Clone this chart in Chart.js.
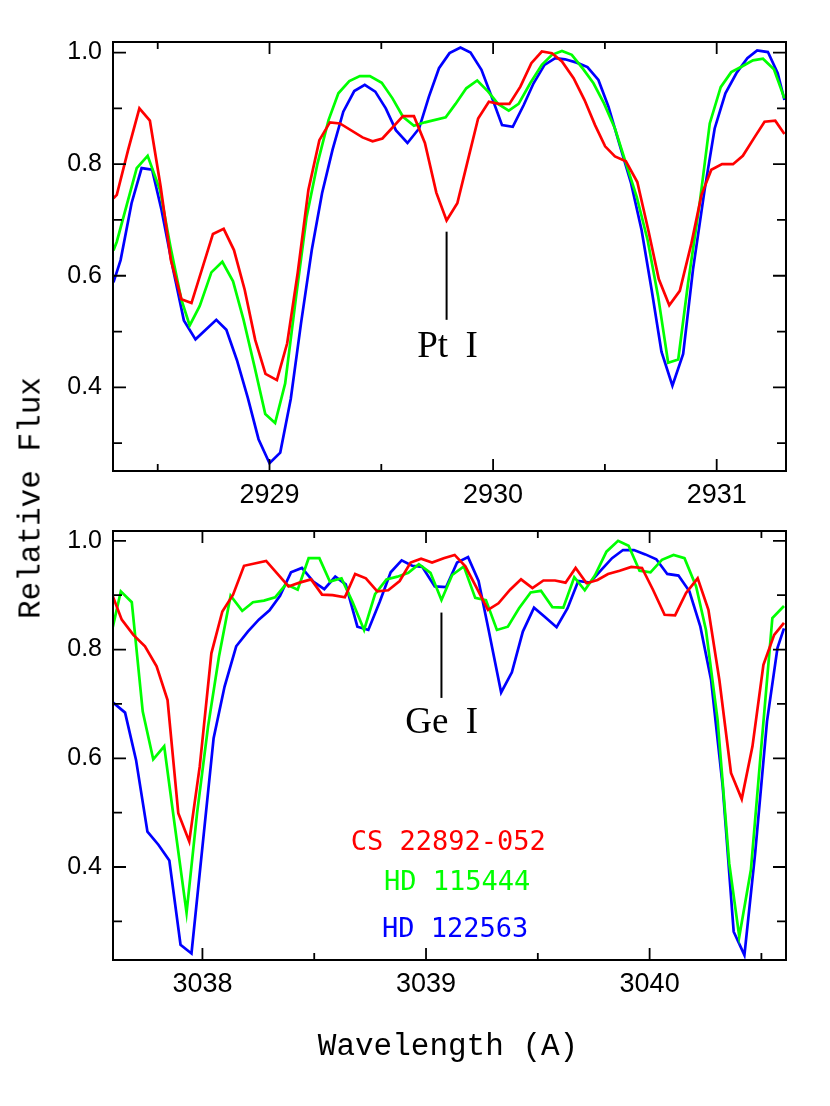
<!DOCTYPE html>
<html><head><meta charset="utf-8">
<script src="https://cdn.jsdelivr.net/npm/chart.js@4.4.1/dist/chart.umd.min.js"></script>
<style>
html,body{margin:0;padding:0;background:#fff;width:830px;height:1106px;overflow:hidden;position:relative;}
canvas{position:absolute;left:0;}
#c1{top:0;}
#c2{top:490px;}
.lab{position:absolute;font-family:"Liberation Mono",monospace;font-size:31px;color:#000;line-height:1;white-space:nowrap;transform:translate(-50%,-50%);}
#ylab{left:31px;top:498px;transform:translate(-50%,-50%) rotate(-90deg);}
#xlab{left:448px;top:1046px;}
</style></head><body>
<canvas id="c1" width="830" height="520" style="width:830px;height:520px"></canvas>
<canvas id="c2" width="830" height="616" style="width:830px;height:616px"></canvas>
<div id="ylab" class="lab">Relative Flux</div>
<div id="xlab" class="lab">Wavelength (A)</div>
<script>
// ---------- data: top panel (Pt I region) ----------
const topRedX = [2928.302,2928.317,2928.368,2928.418,2928.465,2928.513,2928.559,2928.606,2928.651,2928.747,2928.795,2928.841,2928.889,2928.936,2928.982,2929.033,2929.079,2929.126,2929.174,2929.223,2929.270,2929.315,2929.416,2929.461,2929.505,2929.597,2929.646,2929.695,2929.746,2929.792,2929.840,2929.884,2929.933,2929.981,2930.025,2930.073,2930.122,2930.171,2930.218,2930.263,2930.308,2930.360,2930.409,2930.456,2930.501,2930.545,2930.594,2930.645,2930.694,2930.741,2930.788,2930.835,2930.887,2930.932,2930.976,2931.024,2931.073,2931.117,2931.169,2931.214,2931.262,2931.303];
const topRedY = [0.739,0.745,0.826,0.900,0.878,0.760,0.628,0.558,0.551,0.675,0.684,0.646,0.575,0.485,0.424,0.413,0.479,0.605,0.754,0.843,0.875,0.873,0.848,0.841,0.846,0.886,0.886,0.838,0.749,0.699,0.730,0.802,0.882,0.912,0.908,0.908,0.939,0.981,1.002,0.999,0.984,0.954,0.915,0.870,0.832,0.814,0.805,0.768,0.682,0.594,0.547,0.573,0.658,0.745,0.790,0.800,0.800,0.815,0.848,0.876,0.878,0.854];
const topGreenX = [2928.302,2928.317,2928.406,2928.455,2928.510,2928.557,2928.606,2928.643,2928.688,2928.740,2928.789,2928.837,2928.884,2928.933,2928.981,2929.025,2929.070,2929.119,2929.166,2929.215,2929.264,2929.308,2929.357,2929.404,2929.449,2929.502,2929.550,2929.597,2929.646,2929.695,2929.788,2929.832,2929.880,2929.929,2929.978,2930.022,2930.070,2930.114,2930.166,2930.218,2930.263,2930.308,2930.352,2930.404,2930.449,2930.496,2930.545,2930.594,2930.642,2930.691,2930.738,2930.783,2930.828,2930.872,2930.924,2930.969,2931.018,2931.065,2931.113,2931.162,2931.207,2931.256,2931.303];
const topGreenY = [0.645,0.661,0.793,0.815,0.754,0.652,0.557,0.511,0.546,0.606,0.625,0.590,0.521,0.437,0.352,0.336,0.407,0.563,0.706,0.802,0.879,0.927,0.949,0.958,0.958,0.946,0.918,0.885,0.869,0.875,0.884,0.908,0.936,0.950,0.930,0.908,0.896,0.908,0.945,0.978,0.996,1.003,0.996,0.970,0.945,0.909,0.864,0.802,0.742,0.664,0.563,0.444,0.450,0.587,0.730,0.873,0.938,0.965,0.975,0.986,0.989,0.970,0.918];
const topBlueX = [2928.302,2928.334,2928.383,2928.428,2928.475,2928.517,2928.569,2928.617,2928.669,2928.762,2928.807,2928.854,2928.903,2928.951,2929.000,2929.048,2929.095,2929.141,2929.189,2929.235,2929.282,2929.330,2929.379,2929.426,2929.473,2929.520,2929.565,2929.617,2929.669,2929.713,2929.758,2929.805,2929.854,2929.899,2929.948,2929.996,2930.040,2930.088,2930.137,2930.181,2930.230,2930.278,2930.322,2930.374,2930.422,2930.471,2930.516,2930.568,2930.617,2930.664,2930.709,2930.753,2930.802,2930.850,2930.894,2930.946,2930.991,2931.039,2931.088,2931.137,2931.181,2931.229,2931.273,2931.303];
const topBlueY = [0.588,0.628,0.730,0.793,0.790,0.718,0.611,0.520,0.486,0.521,0.503,0.449,0.381,0.307,0.264,0.283,0.379,0.515,0.646,0.748,0.826,0.894,0.931,0.942,0.930,0.900,0.861,0.838,0.864,0.921,0.972,0.999,1.009,1.000,0.969,0.918,0.870,0.867,0.906,0.945,0.978,0.990,0.988,0.982,0.974,0.951,0.903,0.832,0.766,0.682,0.575,0.464,0.403,0.460,0.611,0.754,0.864,0.927,0.963,0.990,1.004,1.001,0.963,0.915];

// ---------- data: bottom panel (Ge I region) ----------
const botRedX = [3037.599,3037.639,3037.691,3037.743,3037.795,3037.844,3037.892,3037.941,3037.988,3038.040,3038.089,3038.137,3038.186,3038.285,3038.385,3038.434,3038.486,3038.535,3038.582,3038.637,3038.683,3038.731,3038.782,3038.831,3038.882,3038.931,3038.978,3039.027,3039.079,3039.128,3039.176,3039.223,3039.277,3039.324,3039.376,3039.425,3039.476,3039.525,3039.577,3039.624,3039.669,3039.718,3039.767,3039.814,3039.866,3039.918,3039.966,3040.015,3040.067,3040.114,3040.163,3040.215,3040.263,3040.312,3040.364,3040.412,3040.460,3040.509,3040.557,3040.601];
const botRedY = [0.898,0.855,0.827,0.806,0.769,0.707,0.499,0.447,0.585,0.793,0.870,0.901,0.954,0.963,0.916,0.923,0.929,0.901,0.900,0.896,0.939,0.931,0.907,0.909,0.926,0.960,0.967,0.960,0.968,0.974,0.953,0.916,0.873,0.885,0.910,0.929,0.913,0.927,0.927,0.923,0.950,0.922,0.928,0.939,0.945,0.952,0.950,0.910,0.864,0.863,0.904,0.931,0.873,0.744,0.573,0.525,0.622,0.772,0.827,0.849];
const botGreenX = [3037.599,3037.635,3037.684,3037.733,3037.780,3037.829,3037.877,3037.929,3037.976,3038.025,3038.074,3038.126,3038.178,3038.226,3038.275,3038.325,3038.374,3038.426,3038.475,3038.523,3038.570,3038.622,3038.671,3038.723,3038.772,3038.823,3038.872,3038.921,3038.968,3039.020,3039.069,3039.117,3039.169,3039.220,3039.268,3039.317,3039.366,3039.416,3039.468,3039.514,3039.565,3039.614,3039.663,3039.710,3039.755,3039.807,3039.859,3039.906,3039.955,3040.004,3040.055,3040.107,3040.156,3040.208,3040.252,3040.304,3040.356,3040.401,3040.453,3040.497,3040.549,3040.601];
const botGreenY = [0.841,0.907,0.887,0.686,0.598,0.622,0.474,0.316,0.499,0.658,0.787,0.899,0.871,0.887,0.890,0.896,0.920,0.910,0.968,0.968,0.925,0.931,0.888,0.836,0.902,0.929,0.934,0.941,0.957,0.941,0.891,0.937,0.953,0.895,0.891,0.836,0.842,0.876,0.905,0.908,0.878,0.877,0.933,0.909,0.936,0.980,1.000,0.991,0.945,0.942,0.965,0.974,0.968,0.916,0.836,0.671,0.407,0.272,0.395,0.609,0.858,0.880];
const botBlueX = [3037.599,3037.654,3037.703,3037.754,3037.803,3037.852,3037.902,3037.951,3038.050,3038.099,3038.151,3038.203,3038.252,3038.300,3038.347,3038.396,3038.445,3038.496,3038.545,3038.594,3038.641,3038.693,3038.742,3038.793,3038.842,3038.891,3038.938,3038.983,3039.039,3039.090,3039.139,3039.188,3039.235,3039.280,3039.336,3039.384,3039.433,3039.483,3039.532,3039.584,3039.633,3039.681,3039.733,3039.785,3039.832,3039.881,3039.930,3039.981,3040.030,3040.079,3040.129,3040.178,3040.227,3040.275,3040.327,3040.376,3040.424,3040.472,3040.525,3040.572,3040.601];
const botBlueY = [0.703,0.684,0.597,0.465,0.441,0.412,0.257,0.241,0.637,0.732,0.806,0.833,0.855,0.872,0.899,0.942,0.950,0.925,0.911,0.934,0.920,0.842,0.836,0.888,0.942,0.964,0.954,0.952,0.916,0.915,0.960,0.970,0.926,0.836,0.721,0.758,0.833,0.877,0.860,0.841,0.876,0.926,0.923,0.947,0.968,0.983,0.983,0.975,0.966,0.939,0.936,0.907,0.842,0.744,0.548,0.281,0.238,0.425,0.668,0.803,0.839];

// ---------- ticks / labels ----------
const topXLabels = [2929, 2930, 2931];
const botXLabels = [3038, 3039, 3040];
const topXMarks = [2928.5, 2929, 2929.5, 2930, 2930.5, 2931];
const botXMarks = [3038, 3038.5, 3039, 3039.5, 3040, 3040.5];
const yLabels = [0.4, 0.6, 0.8, 1.0];
const yMarks = [0.3, 0.4, 0.5, 0.6, 0.7, 0.8, 0.9, 1.0];
const starNames = ['CS 22892-052', 'HD 115444', 'HD 122563'];
const starColors = ['#ff0000', '#00ff00', '#0000ff'];

function zip(xs, ys) {
  const n = Math.min(xs.length, ys.length), out = [];
  for (let i = 0; i < n; i++) out.push({x: xs[i], y: ys[i]});
  return out;
}
function ds(xs, ys, i) {
  return {label: starNames[i], data: zip(xs, ys), borderColor: starColors[i],
          borderWidth: 2.7, pointRadius: 0, tension: 0, fill: false};
}

const framePlugin = {
  id: 'frame',
  afterDatasetsDraw(chart, args, o) {
    const {ctx, chartArea: a, scales: {x, y}} = chart;
    ctx.save();
    ctx.strokeStyle = '#000';
    ctx.lineWidth = 2;
    ctx.beginPath();
    ctx.rect(a.left, a.top, a.right - a.left, a.bottom - a.top);
    ctx.stroke();
    ctx.lineWidth = 1.8;
    ctx.beginPath();
    o.xMarks.forEach(v => {
      const p = x.getPixelForValue(v);
      const L = Number.isInteger(v) ? 12 : 7;
      ctx.moveTo(p, a.bottom); ctx.lineTo(p, a.bottom - L);
      ctx.moveTo(p, a.top); ctx.lineTo(p, a.top + L);
    });
    yMarks.forEach(v => {
      const p = y.getPixelForValue(v);
      const L = yLabels.some(l => Math.abs(l - v) < 1e-9) ? 13 : 9;
      ctx.moveTo(a.left, p); ctx.lineTo(a.left + L, p);
      ctx.moveTo(a.right, p); ctx.lineTo(a.right - L, p);
    });
    ctx.stroke();
    // identification mark
    const m = o.mark;
    const mx = x.getPixelForValue(m.x);
    ctx.lineWidth = 2;
    ctx.beginPath();
    ctx.moveTo(mx, y.getPixelForValue(m.y1));
    ctx.lineTo(mx, y.getPixelForValue(m.y2));
    ctx.stroke();
    ctx.fillStyle = '#000';
    ctx.font = '37px "Liberation Serif", serif';
    ctx.textAlign = 'center';
    ctx.textBaseline = 'alphabetic';
    try { ctx.wordSpacing = '8px'; } catch (e) {}
    ctx.fillText(m.text, x.getPixelForValue(m.tx), y.getPixelForValue(m.ty));
    try { ctx.wordSpacing = '0px'; } catch (e) {}
    // star legend
    if (o.legend) {
      ctx.font = '27px "DejaVu Sans Mono", monospace';
      o.legend.forEach((l, i) => {
        ctx.fillStyle = starColors[i];
        ctx.fillText(starNames[i], x.getPixelForValue(l.x), y.getPixelForValue(l.y));
      });
    }
    ctx.restore();
  }
};

function build(id, datasets, o) {
  return new Chart(document.getElementById(id), {
    type: 'line',
    data: {datasets},
    options: {
      responsive: false, animation: false, devicePixelRatio: 1,
      layout: {padding: {top: o.padTop, right: 44, left: 0, bottom: 0}},
      plugins: {legend: {display: false}, tooltip: {enabled: false}, frame: o.frame},
      scales: {
        x: {
          type: 'linear', min: o.xMin, max: o.xMax,
          grid: {display: false, drawTicks: false}, border: {display: false},
          afterBuildTicks: s => { s.ticks = o.xLabels.map(v => ({value: v})); },
          afterFit: s => { s.height = o.xAxisH; },
          ticks: {font: {family: '"Liberation Sans", sans-serif', size: 27}, color: '#000',
                  padding: o.xPad, maxRotation: 0, autoSkip: false, callback: v => String(v)}
        },
        y: {
          type: 'linear', min: o.yMin, max: o.yMax,
          grid: {display: false, drawTicks: false}, border: {display: false},
          afterBuildTicks: s => { s.ticks = yLabels.map(v => ({value: v})); },
          afterFit: s => { s.width = 113; },
          ticks: {font: {family: '"Liberation Sans", sans-serif', size: 25}, color: '#000',
                  padding: 11, autoSkip: false, callback: v => Number(v).toFixed(1)}
        }
      }
    },
    plugins: [framePlugin]
  });
}

build('c1', [ds(topRedX, topRedY, 0), ds(topGreenX, topGreenY, 1), ds(topBlueX, topBlueY, 2)], {
  padTop: 42, xAxisH: 49, xPad: 8, xMin: 2928.30, xMax: 2931.31, yMin: 0.250, yMax: 1.019,
  xLabels: topXLabels,
  frame: {xMarks: topXMarks, mark: {x: 2929.792, y1: 0.679, y2: 0.521, text: 'Pt I', tx: 2929.796, ty: 0.455}}
});
build('c2', [ds(botRedX, botRedY, 0), ds(botGreenX, botGreenY, 1), ds(botBlueX, botBlueY, 2)], {
  padTop: 41, xAxisH: 146, xPad: 8, xMin: 3037.60, xMax: 3040.61, yMin: 0.229, yMax: 1.018,
  xLabels: botXLabels,
  frame: {xMarks: botXMarks, mark: {x: 3039.069, y1: 0.868, y2: 0.711, text: 'Ge I', tx: 3039.070, ty: 0.646},
          legend: [{x: 3039.099, y: 0.4315}, {x: 3039.139, y: 0.358}, {x: 3039.130, y: 0.271}]}
});
</script>
</body></html>
